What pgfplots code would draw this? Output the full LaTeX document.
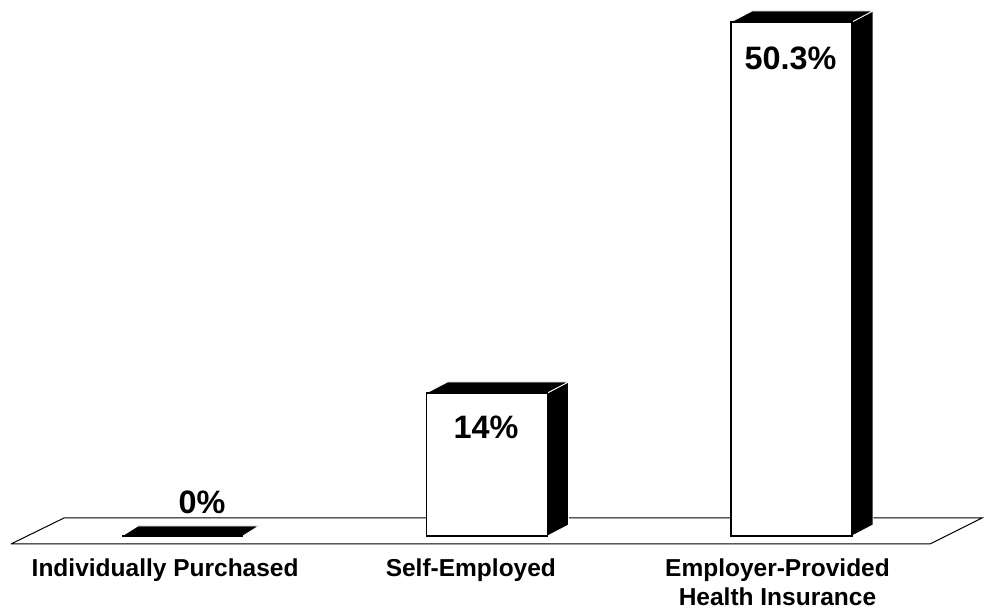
\documentclass[border=0pt]{standalone}
\usepackage{pgfplots}
\pgfplotsset{compat=1.18}
\usepackage{fontspec}
\setmainfont{Liberation Sans}
\newcommand\threedfaces[4]{% #1 x, #2 value, #3 dx, #4 dy
  \pgfmathsetmacro\xl{#1-0.1985}%
  \pgfmathsetmacro\xr{#1+0.1985}%
  \pgfmathsetmacro\xlb{#1-0.1985+#3}%
  \pgfmathsetmacro\xrb{#1+0.1985+#3}%
  \pgfmathsetmacro\vt{#2+#4}%
  \addplot[fill=black, draw=white, line width=0.4pt] coordinates {(\xr,0) (\xr,#2) (\xrb,\vt) (\xrb,#4) (\xr,0)};
  \addplot[fill=black, draw=white, line width=0.4pt] coordinates {(\xl,#2) (\xr,#2) (\xrb,\vt) (\xlb,\vt) (\xl,#2)};
}
\begin{document}
\begin{tikzpicture}
\begin{axis}[
  scale only axis, width=492.5pt, height=305.5pt,
  xmin=-0.5993, xmax=2.6355, ymin=-7.34, ymax=52.45,
  hide axis, clip=false,
]
% floor
\addplot[fill=white, draw=black, line width=0.5pt] coordinates {(-0.5632,-0.783) (2.4548,-0.783) (2.6256,1.761) (-0.3892,1.761) (-0.5632,-0.783)};
% 3D faces
\threedfaces{0}{0}{0.052}{0.978}
\threedfaces{1}{14}{0.069}{1.076}
\threedfaces{2}{50.3}{0.069}{1.076}
% front faces
\addplot[ybar, bar width=0.397, bar shift=0pt, fill=white, draw=black, line width=0.75pt] coordinates {(0,0) (1,14) (2,50.3)};
% value labels
\node[font=\fontsize{16.2}{19}\selectfont\bfseries] at (axis cs:0.064,3.33) {0\%};
\node[font=\fontsize{16.2}{19}\selectfont\bfseries] at (axis cs:0.997,10.67) {14\%};
\node[font=\fontsize{16.2}{19}\selectfont\bfseries] at (axis cs:1.997,46.75) {50.3\%};
% category labels
\node[anchor=base, font=\fontsize{12.25}{14}\selectfont\bfseries] at (axis cs:-0.057,-4.01) {Individually Purchased};
\node[anchor=base, font=\fontsize{12.25}{14}\selectfont\bfseries] at (axis cs:0.947,-4.01) {Self-Employed};
\node[anchor=base, font=\fontsize{12.25}{14}\selectfont\bfseries] at (axis cs:1.954,-4.01) {Employer-Provided};
\node[anchor=base, font=\fontsize{12.25}{14}\selectfont\bfseries] at (axis cs:1.954,-6.85) {Health Insurance};
\coordinate (bbsw) at (rel axis cs:0,0);
\coordinate (bbne) at (rel axis cs:1,1);
\end{axis}
\pgfresetboundingbox
\path (bbsw) rectangle (bbne);
\end{tikzpicture}
\end{document}
